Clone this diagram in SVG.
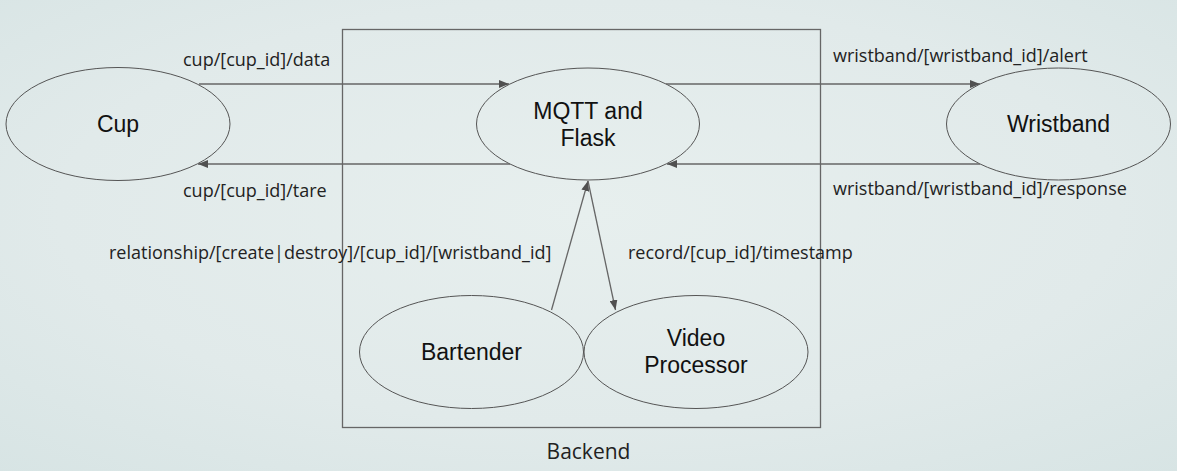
<svg xmlns="http://www.w3.org/2000/svg" width="1177" height="471" viewBox="0 0 1177 471">
<defs>
<radialGradient id="bg" cx="0.5" cy="0.45" r="0.75">
<stop offset="0" stop-color="#e7efee"/>
<stop offset="0.6" stop-color="#e1eaea"/>
<stop offset="1" stop-color="#d7e4e4"/>
</radialGradient>
<marker id="arr" viewBox="0 0 10 8" refX="10" refY="4" markerWidth="10" markerHeight="8" markerUnits="userSpaceOnUse" orient="auto">
<path d="M0,0 L10,4 L0,8 Z" fill="#505050"/>
</marker>
<style>
.node{fill:none;stroke:#555;stroke-width:1}
.nl{font-family:"Liberation Sans",Arial,sans-serif;font-size:23px;fill:#111;text-anchor:middle}
.el{font-family:"Open Sans","Noto Sans",sans-serif;font-size:18px;fill:#222}
.edge{stroke:#666;stroke-width:1.3;fill:none;marker-end:url(#arr)}
</style>
</defs>
<rect width="1177" height="471" fill="url(#bg)"/>
<g id="backend">
<rect x="342.5" y="29.5" width="478" height="398" fill="none" stroke="#666" stroke-width="1.3"/>
<text class="el" x="588.5" y="459" text-anchor="middle" style="font-size:21px">Backend</text>
</g>
<g id="cup">
<ellipse class="node" cx="118" cy="124" rx="112" ry="56.5"/>
<text class="nl" x="118" y="132">Cup</text>
</g>
<g id="mqtt">
<ellipse class="node" cx="588" cy="124" rx="111.5" ry="56"/>
<text class="nl" x="588" y="119">MQTT and</text>
<text class="nl" x="588" y="146">Flask</text>
</g>
<g id="wristband">
<ellipse class="node" cx="1058.5" cy="124" rx="112" ry="56"/>
<text class="nl" x="1058.5" y="132">Wristband</text>
</g>
<g id="bartender">
<ellipse class="node" cx="471.5" cy="352" rx="112" ry="56.5"/>
<text class="nl" x="471.5" y="360">Bartender</text>
</g>
<g id="video">
<ellipse class="node" cx="696" cy="352" rx="112" ry="56.5"/>
<text class="nl" x="696" y="346">Video</text>
<text class="nl" x="696" y="373">Processor</text>
</g>
<g id="connectors">
<line class="edge" x1="199" y1="84" x2="509" y2="84"/>
<line class="edge" x1="510" y1="164" x2="198" y2="164"/>
<line class="edge" x1="666" y1="84" x2="980" y2="84"/>
<line class="edge" x1="980" y1="164" x2="667" y2="164"/>
<line class="edge" x1="551.5" y1="310" x2="588" y2="181"/>
<line class="edge" x1="588" y1="181" x2="615.5" y2="310"/>
<text class="el" x="183" y="66">cup/[cup_id]/data</text>
<text class="el" x="183" y="197">cup/[cup_id]/tare</text>
<text class="el" x="833" y="62">wristband/[wristband_id]/alert</text>
<text class="el" x="833" y="195">wristband/[wristband_id]/response</text>
<text class="el" x="109" y="259">relationship/[create|destroy]/[cup_id]/[wristband_id]</text>
<text class="el" x="628" y="259">record/[cup_id]/timestamp</text>
</g>
</svg>
